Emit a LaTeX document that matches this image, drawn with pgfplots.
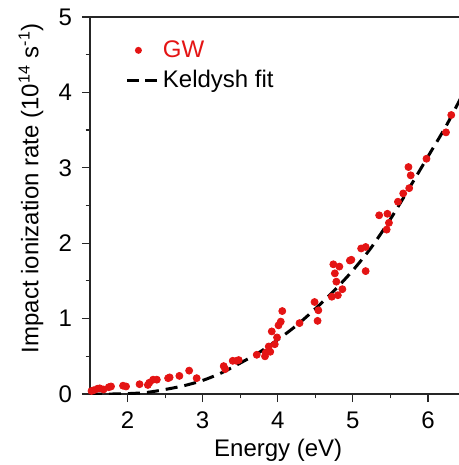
\documentclass[border=0pt]{standalone}
\usepackage{pgfplots}
\pgfplotsset{compat=1.18}
\usepackage{fontspec}
\setmainfont{Liberation Sans}
\definecolor{gwred}{RGB}{228,20,20}

\begin{document}
\begin{tikzpicture}[x=1pt,y=1pt]
\begin{axis}[scale only axis, width=184.5pt, height=188.5pt,
  xmin=1.5, xmax=6.413, ymin=0, ymax=5,
  xtick={2,3,4,5,6}, ytick={0,1,2,3,4,5}, minor tick num=1,
  axis x line*=box, axis y line*=left, tick pos=left, tick align=outside,
  major tick length=4pt, minor tick length=2.2pt,
  axis line style={line width=0.6pt, black!85},
  every tick/.style={line width=0.6pt, black!85},
  /pgf/number format/assume math mode=true,
  tick label style={font=\fontsize{12}{14}\selectfont},
  xticklabel style={yshift=-1.5pt}, yticklabel style={xshift=-1.5pt},
  label style={font=\fontsize{12}{14}\selectfont},
  xlabel={Energy (eV)},
  ylabel={Impact ionization rate (10\textsuperscript{14} s\textsuperscript{-1})},
  xlabel style={at={(axis description cs:0.51,-0.15)}, anchor=center},
  ylabel style={at={(axis description cs:-0.16,0.546)}, anchor=center},
  legend style={draw=none, fill=none, at={(axis description cs:0.08,0.96)}, anchor=north west,
    font=\fontsize{12}{14}\selectfont, row sep=1pt, cells={anchor=west}},
  legend cell align=left]
\addlegendimage{draw=none, no markers, legend image code/.code={
  \path[draw=none, fill=none] (0pt,0pt) -- (15pt,0pt);
  \fill[gwred, draw=none] (5.5pt,0pt) circle (1.75pt);}}
\addlegendentry{\textcolor{gwred}{GW}}
\addlegendimage{no markers, legend image code/.code={
  \draw[black, line width=1.5pt, dash pattern=on 6pt off 3pt] (0pt,0pt) -- (15pt,0pt);}}
\addlegendentry{Keldysh fit}
\addplot[only marks, mark=*, mark size=1.75pt, gwred, forget plot] coordinates {
(1.52,0.04) (1.55,0.05) (1.60,0.07) (1.63,0.075) (1.68,0.06) (1.75,0.09) (1.78,0.10)
(1.94,0.11) (1.98,0.10) (2.16,0.13) (2.27,0.12) (2.29,0.15) (2.34,0.19) (2.39,0.19)
(2.54,0.21) (2.56,0.22) (2.69,0.24) (2.82,0.31) (2.92,0.21) (3.28,0.37) (3.30,0.33)
(3.40,0.44) (3.45,0.44) (3.48,0.45) (3.72,0.52) (3.83,0.50) (3.84,0.55) (3.88,0.63)
(3.90,0.56) (3.92,0.83) (3.96,0.66) (3.99,0.75) (4.01,0.91) (4.04,0.96) (4.06,1.10)
(4.29,0.94) (4.49,1.22) (4.53,0.97) (4.54,1.11) (4.72,1.29) (4.74,1.72) (4.76,1.60)
(4.78,1.49) (4.80,1.31) (4.82,1.69) (4.86,1.39) (4.96,1.77) (4.98,1.78) (5.11,1.93)
(5.17,1.95) (5.17,1.63) (5.35,2.37) (5.45,2.18) (5.46,2.39) (5.48,2.27) (5.60,2.55)
(5.67,2.66) (5.74,3.01) (5.75,2.73) (5.77,2.90) (5.98,3.12) (6.24,3.47) (6.31,3.70)
};
\addplot[black, line width=1.5pt, dash pattern=on 6pt off 3.5pt, smooth, forget plot] coordinates {
(1.5,0.0) (1.8,0.0) (2.0,0.005) (2.25,0.02) (2.5,0.06) (2.75,0.11) (3.0,0.18)
(3.25,0.28) (3.5,0.41) (3.75,0.55) (4.0,0.72) (4.25,0.91) (4.5,1.13) (4.75,1.37)
(5.0,1.64) (5.25,1.95) (5.5,2.32) (5.75,2.73) (6.0,3.15) (6.25,3.57) (6.5,4.05)
};
\end{axis}
\pgfresetboundingbox
\path (current axis.south west) ++(-45pt,-35.5pt) coordinate (bl);
\path (current axis.north east) ++(0pt,8.5pt) coordinate (tr);
\useasboundingbox (bl) rectangle (tr);
\end{tikzpicture}
\end{document}
